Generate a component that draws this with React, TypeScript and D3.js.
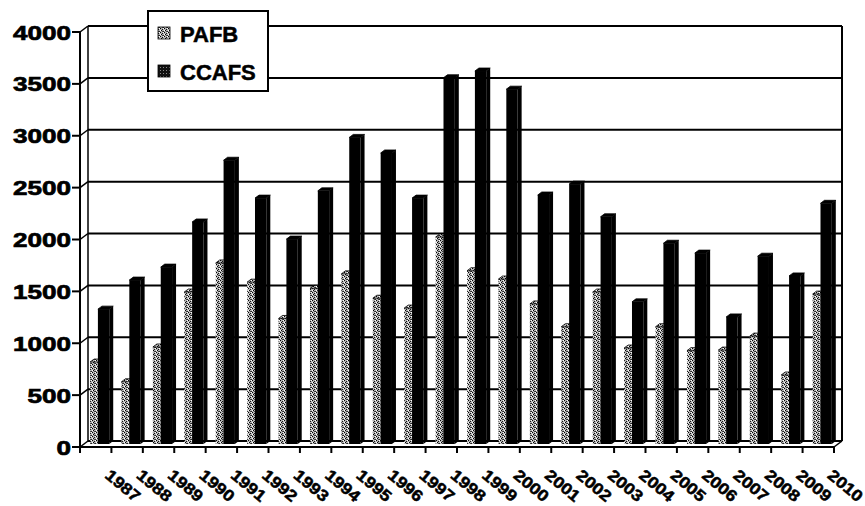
import * as d3 from 'd3';

const years = [
  '1987', '1988', '1989', '1990', '1991', '1992', '1993', '1994', '1995', '1996', '1997', '1998',
  '1999', '2000', '2001', '2002', '2003', '2004', '2005', '2006', '2007', '2008', '2009', '2010',
];
const pafb = [
  790, 600, 935, 1465, 1745, 1560, 1210, 1500, 1640, 1405, 1310, 1995,
  1670, 1590, 1350, 1130, 1465, 925, 1130, 900, 905, 1040, 665, 1445,
];
const ccafs = [
  1300, 1580, 1705, 2140, 2735, 2370, 1975, 2440, 2955, 2805, 2370, 3530,
  3595, 3420, 2400, 2505, 2190, 1370, 1935, 1840, 1225, 1810, 1620, 2320,
];
const yTicks = [0, 500, 1000, 1500, 2000, 2500, 3000, 3500, 4000];
const seriesNames = ['PAFB', 'CCAFS'];

const W = 865;
const H = 506;
const DX = 8; // wall depth
const DY = -6;
const BD = 4; // bar depth
const font = '"Liberation Sans", Arial, sans-serif';

export default function App() {
  const xScale = d3.scaleBand<string>().domain(years).range([80, 834]).paddingInner(0);
  const bw = xScale.bandwidth();
  const yFront = d3.scaleLinear().domain([0, 4000]).range([447, 32]);
  const yBack = (v: number) => yFront(v) + DY;
  const yBar = d3.scaleLinear().domain([0, 4000]).range([444, 29]);

  const bar = (x: number, w: number, v: number, fill: string, side: string, key: string) => {
    const y = yBar(v);
    const b = yBar(0);
    return (
      <g key={key}>
        <rect x={x} y={y} width={w} height={b - y} fill={fill} />
        <polygon
          points={`${x},${y} ${x + w},${y} ${x + w + BD},${y - 3} ${x + BD},${y - 3}`}
          fill={fill}
          stroke="#000"
          strokeWidth={0.8}
        />
        <polygon points={`${x + w},${y} ${x + w + BD},${y - 3} ${x + w + BD},${b - 3} ${x + w},${b}`} fill={side} />
      </g>
    );
  };

  return (
    <svg width={W} height={H} style={{ position: 'absolute', left: 0, top: 0, background: '#fff' }}>
      <defs>
        <pattern id="stip" width={4} height={4} patternUnits="userSpaceOnUse">
          <rect width={4} height={4} fill="#b4b4b4" />
          <rect x={0} y={0} width={1} height={1} fill="#000" />
          <rect x={2} y={1} width={1} height={1} fill="#111" />
          <rect x={1} y={2} width={1} height={1} fill="#000" />
          <rect x={3} y={3} width={1} height={1} fill="#222" />
          <rect x={2} y={3} width={1} height={1} fill="#444" />
          <rect x={3} y={0} width={1} height={1} fill="#fff" />
          <rect x={0} y={2} width={1} height={1} fill="#fff" />
        </pattern>
        <pattern id="dark" width={3} height={3} patternUnits="userSpaceOnUse">
          <rect width={3} height={3} fill="#111" />
          <rect x={1} y={1} width={1} height={1} fill="#888" />
        </pattern>
      </defs>

      {/* back wall gridlines */}
      {yTicks.map((t) => (
        <line key={'g' + t} x1={80 + DX} x2={834 + DX} y1={yBack(t)} y2={yBack(t)} stroke="#000" strokeWidth={2} />
      ))}
      <line x1={80 + DX} x2={80 + DX} y1={yBack(4000)} y2={yBack(0)} stroke="#000" strokeWidth={1.5} />
      <line x1={834 + DX} x2={834 + DX} y1={yBack(4000)} y2={yBack(0)} stroke="#000" strokeWidth={2} />

      {/* side wall diagonals and y axis */}
      {yTicks.map((t) => (
        <g key={'s' + t}>
          <line x1={80} x2={80 + DX} y1={yFront(t)} y2={yBack(t)} stroke="#000" strokeWidth={1.5} />
          <line x1={72} x2={80} y1={yFront(t)} y2={yFront(t)} stroke="#000" strokeWidth={2} />
          <text
            x={71}
            y={yFront(t) + 7.5}
            textAnchor="end"
            fontFamily={font}
            fontWeight="bold"
            fontSize={21}
            stroke="#000"
            strokeWidth={0.7}
            textLength={String(t).length * 14.5}
            lengthAdjust="spacingAndGlyphs"
          >
            {t}
          </text>
        </g>
      ))}
      <line x1={80} x2={80} y1={yFront(4000)} y2={yFront(0)} stroke="#000" strokeWidth={2} />

      {/* bars */}
      {years.map((yr, i) => {
        const x0 = xScale(yr)!;
        return (
          <g key={yr}>
            {bar(x0 + bw * 0.32, bw * 0.25, pafb[i], 'url(#stip)', '#555', 'p' + yr)}
            {bar(x0 + bw * 0.57, bw * 0.36, ccafs[i], '#000', '#000', 'c' + yr)}
          </g>
        );
      })}

      {/* floor front edge and ticks */}
      <line x1={80} x2={834} y1={yFront(0)} y2={yFront(0)} stroke="#000" strokeWidth={2} />
      <line x1={834} x2={834 + DX} y1={yFront(0)} y2={yBack(0)} stroke="#000" strokeWidth={1.5} />
      {[...years.map((y) => xScale(y)!), 834].map((x, i) => (
        <line key={'t' + i} x1={x} x2={x} y1={yFront(0)} y2={yFront(0) + 6} stroke="#000" strokeWidth={2} />
      ))}

      {/* x labels */}
      {years.map((yr) => {
        const x = xScale(yr)! + 24;
        const y = 477;
        return (
          <text
            key={'l' + yr}
            x={x}
            y={y}
            transform={`rotate(40 ${x} ${y})`}
            fontFamily={font}
            fontWeight="bold"
            fontSize={16}
            stroke="#000"
            strokeWidth={0.5}
            textLength={40}
            lengthAdjust="spacingAndGlyphs"
          >
            {yr}
          </text>
        );
      })}

      {/* legend */}
      <rect x={148} y={11} width={120} height={80} fill="#fff" stroke="#000" strokeWidth={2} />
      {seriesNames.map((name, i) => (
        <g key={name}>
          <rect
            x={158}
            y={27 + i * 38}
            width={12}
            height={12}
            fill={i === 0 ? 'url(#stip)' : 'url(#dark)'}
            stroke="#000"
            strokeWidth={0.8}
          />
          <text x={180} y={42 + i * 38} fontFamily={font} fontWeight="bold" fontSize={22} stroke="#000" strokeWidth={0.5}>
            {name}
          </text>
        </g>
      ))}
    </svg>
  );
}
